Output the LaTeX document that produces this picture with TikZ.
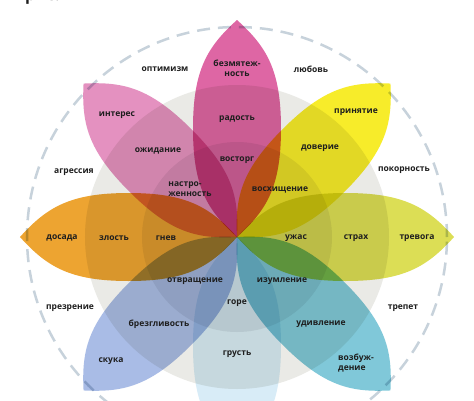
\documentclass[tikz,border=0pt]{standalone}
\usepackage{fontspec}
\setsansfont{Open Sans}
\usepackage{tikz}

\definecolor{pkTop}{HTML}{DE66A4}
\definecolor{pkLeft}{HTML}{E491C0}
\definecolor{ylTop}{HTML}{F7EC2A}
\definecolor{ylRight}{HTML}{DCDE55}
\definecolor{tlBR}{HTML}{80C8D9}
\definecolor{blBot}{HTML}{D8ECF7}
\definecolor{blBL}{HTML}{A9BCE6}
\definecolor{orLeft}{HTML}{EDA431}
\definecolor{ringOut}{HTML}{EAEAE6}
\definecolor{ringIn}{HTML}{D9D9D6}
\definecolor{dashCol}{HTML}{C7D2DB}
\definecolor{ink}{HTML}{1E1E1E}

\begin{document}
\begin{tikzpicture}[x=1pt,y=1pt,
    emo/.style={font=\sffamily\bfseries\fontsize{8.5}{10}\selectfont, text=ink, inner sep=0pt},
    emotwo/.style={emo, align=left},
    petal/.style={blend mode=multiply},
    dashring/.style={draw=dashCol, line width=2.5pt, dash pattern=on 13pt off 8pt}]
\useasboundingbox (-237,-163) rectangle (237,237);
\begin{scope}
\clip (-237,-163) rectangle (237,237);
\fill[white] (-237,-163) rectangle (237,237);

% grey rings behind the petals
\fill[ringOut] (0,0) circle (152);
\fill[ringIn] (0,0) circle (95);
\draw[dashring] (0,0) circle (210);

% eight petals
\foreach \ang/\col in {90/pkTop, 135/pkLeft, 45/ylTop, 0/ylRight,
                       -45/tlBR, -90/blBot, -135/blBL, 180/orLeft}
  \fill[petal, \col, rotate=\ang] (0,0)
      .. controls (26.8,29.7) and (50,44) .. (108.5,44)
      .. controls (167,44) and (190.2,29.7) .. (217,0)
      .. controls (190.2,-29.7) and (167,-44) .. (108.5,-44)
      .. controls (50,-44) and (26.8,-29.7) .. (0,0);

% cut-off heading
\node[anchor=base west, font=\sffamily\bfseries\fontsize{16}{18}\selectfont, text=ink, inner sep=0pt] (capt) at (-212,237) {рис.};
\end{scope}

% outer dyads
\node[emo] (optimizm) at (-72,168) {оптимизм};
\node[emo] (lubov) at (74,168) {любовь};
\node[emo] (pokorn) at (167,67) {покорность};
\node[emo] (trepet) at (166,-71) {трепет};
\node[emo] (prezr) at (-167,-71) {презрение};
\node[emo] (agres) at (-163,65) {агрессия};

% top petal
\node[emo, align=center] (bezm) at (0,169) {безмятеж-\\ность};
\node[emo] (radost) at (0,118) {радость};
\node[emo] (vostorg) at (0,77) {восторг};
% top-left petal
\node[emo] (interes) at (-120,122) {интерес};
\node[emo] (ozhid) at (-79,86) {ожидание};
\node[emotwo] (nastr) at (-47,48) {настро-\\женность};
% top-right petal
\node[emo] (prinyat) at (119,125) {принятие};
\node[emo] (doverie) at (83,89) {доверие};
\node[emo] (voshisch) at (43,47) {восхищение};
% left petal
\node[emo] (dosada) at (-175,-1) {досада};
\node[emo] (zlost) at (-123,-1) {злость};
\node[emo] (gnev) at (-71,-1) {гнев};
% right petal
\node[emo] (uzhas) at (59,-1) {ужас};
\node[emo] (strah) at (119,-1) {страх};
\node[emo] (trevoga) at (180,-1) {тревога};
% bottom-left petal
\node[emo] (otvr) at (-42,-44) {отвращение};
\node[emo] (brezg) at (-78,-87) {брезгливость};
\node[emo] (skuka) at (-126,-124) {скука};
% bottom petal
\node[emo] (gore) at (0,-66) {горе};
\node[emo] (grust) at (0,-117) {грусть};
% bottom-right petal
\node[emo] (izuml) at (45,-44) {изумление};
\node[emo] (udivl) at (84,-87) {удивление};
\node[emotwo] (vozb) at (119,-126) {возбуж-\\дение};
\end{tikzpicture}
\end{document}
